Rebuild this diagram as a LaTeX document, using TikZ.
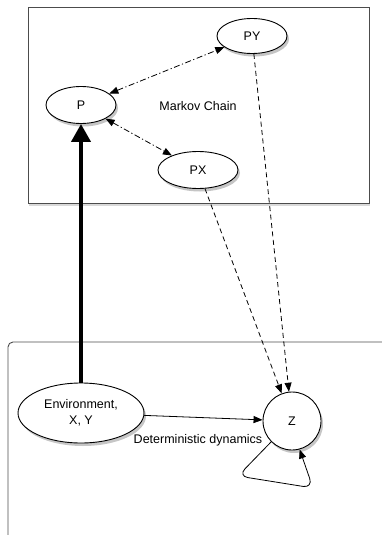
\documentclass[tikz,border=0pt]{standalone}
\usepackage{fontspec}
\setmainfont{Liberation Sans}
\usetikzlibrary{shapes.geometric,arrows.meta,shadows}

\begin{document}
\begin{tikzpicture}[x=1pt,y=-1pt,font=\fontsize{12.5}{16}\selectfont,line width=0.8pt,
  state/.style={ellipse,draw,fill=white,line width=0.9pt,inner sep=0pt,
    drop shadow={shadow xshift=2pt,shadow yshift=-3pt,opacity=0.45}},
  tip/.style={-{Triangle[length=9pt,width=7pt]}},
  twotip/.style={{Triangle[length=9pt,width=7pt]}-{Triangle[length=9pt,width=7pt]}},
  dashdot/.style={dash pattern=on 6pt off 2.5pt on 1.2pt off 2.5pt},
  dash4/.style={dash pattern=on 5pt off 3.5pt},
  frame/.style={draw=black!70,line width=0.9pt}]
\useasboundingbox (0,0) rectangle (381,535);
% the two regions
\draw [frame,fill=white,drop shadow={shadow xshift=1pt,shadow yshift=-3pt,opacity=0.3}]
  (28,7) rectangle (369,203);
\draw [frame,rounded corners=5pt] (400,342) -| (8,545);
% Markov chain part
\node [state,minimum width=70pt,minimum height=37pt] (P) at (81,105) {P};
\node [state,minimum width=70pt,minimum height=35pt] (PY) at (252,36) {PY};
\node [state,minimum width=80pt,minimum height=37pt] (PX) at (198,170) {PX};
\node (mc) at (198,106) {Markov Chain};
\draw [twotip,dashdot] (P) -- (PY);
\draw [twotip,dashdot] (P) -- (PX);
% environment part
\node [state,minimum width=126pt,minimum height=60pt,align=center] (env) at (81,413) {Environment,\\X, Y};
\node [state,circle,minimum size=58pt] (Z) at (292,421) {Z};
\node (det) at (198,440) {Deterministic dynamics};
\draw [tip] (env) -- (Z);
\draw [line width=4pt,-{Triangle[length=18pt,width=19pt]}] (env) -- (P);
\draw [tip,dash4] (PY) -- (Z);
\draw [tip,dash4] (PX) -- (Z);
\coordinate (loopa) at (238,476);
\coordinate (loopb) at (313,488);
\draw [tip,rounded corners=10pt] (Z.225) -- (loopa) -- (loopb) -- (Z.285);
\end{tikzpicture}
\end{document}
